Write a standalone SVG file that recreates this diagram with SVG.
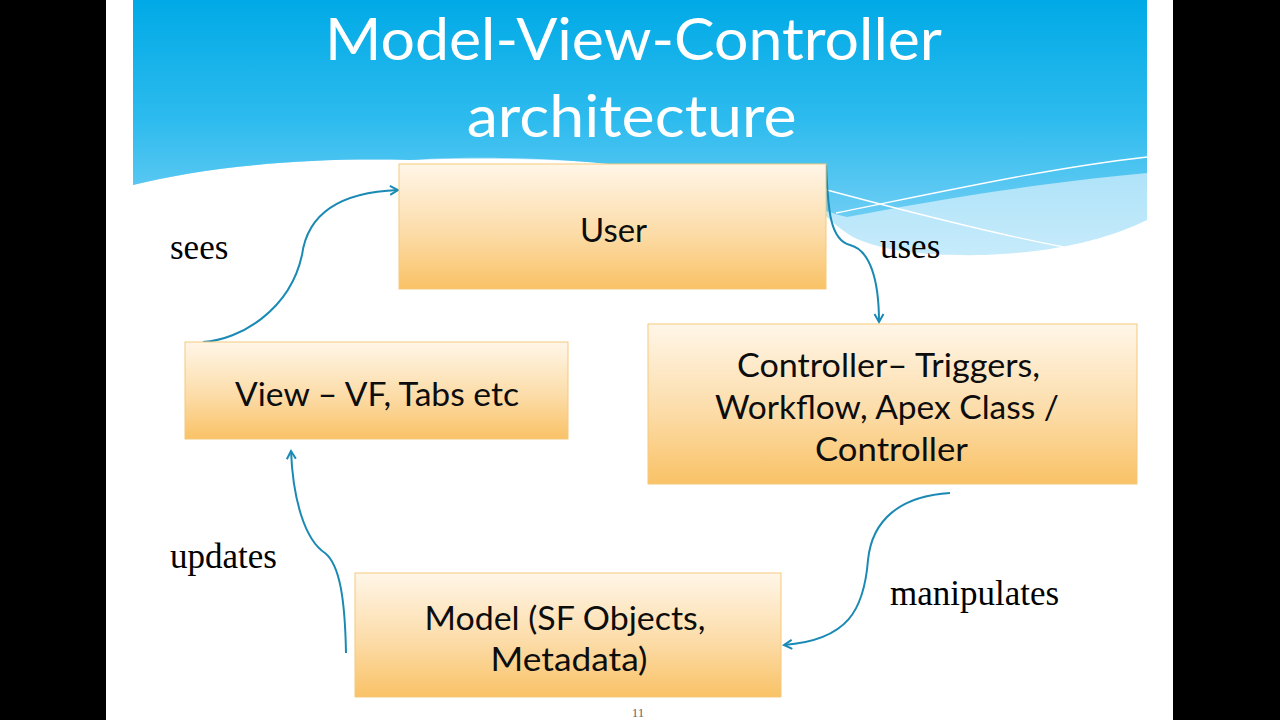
<svg xmlns="http://www.w3.org/2000/svg" width="1280" height="720" viewBox="0 0 1280 720">
<defs>
<linearGradient id="sky" x1="0" y1="0" x2="0" y2="1">
<stop offset="0" stop-color="#00AAE6"/>
<stop offset="0.55" stop-color="#2DBBEE"/>
<stop offset="1" stop-color="#6CCDF3"/>
</linearGradient>
<linearGradient id="band" x1="0" y1="0" x2="0" y2="1">
<stop offset="0" stop-color="#7FD2F4"/>
<stop offset="1" stop-color="#C6EBFB"/>
</linearGradient>
<linearGradient id="box" x1="0" y1="0" x2="0" y2="1">
<stop offset="0" stop-color="#FFF6E8"/>
<stop offset="0.55" stop-color="#FCDCA8"/>
<stop offset="1" stop-color="#F9C266"/>
</linearGradient>
<marker id="arr" markerUnits="userSpaceOnUse" markerWidth="12" markerHeight="12" refX="9" refY="5" orient="auto" viewBox="0 0 12 10">
<path d="M1,0.5 L9,5 L1,9.5" fill="none" stroke="#1A8AB5" stroke-width="2"/>
</marker>
</defs>
<style>
.box{fill:url(#box);stroke:#F5C97C;stroke-width:1}
.bt{font-family:Lato,"Open Sans",sans-serif;font-size:32px;fill:#0d0d0d;text-anchor:middle}
.lbl{font-family:"Liberation Serif","Times New Roman",serif;font-size:35px;fill:#000}
.conn{fill:none;stroke:#1A8AB5;stroke-width:2;marker-end:url(#arr)}
.title{font-family:Lato,"Open Sans",sans-serif;font-size:59px;fill:#fff;text-anchor:middle}
</style>
<rect x="0" y="0" width="1280" height="720" fill="#000"/>
<rect x="106" y="0" width="1067" height="720" fill="#fff"/>
<g id="header">
<path d="M133,0 H1147 V220 C1110,238 1060,252 985,255 C930,256 885,252 855,238 C830,225 815,200 790,190 C700,165 550,155 410,160 C300,157 200,168 133,185 Z" fill="url(#band)"/>
<path d="M133,0 H1147 V173 C1020,185 920,203 847,217 C800,205 720,170 560,160 C480,156 440,158 410,160 C300,157 200,168 133,185 Z" fill="url(#sky)"/>
<path d="M790,180 C900,210 1000,235 1064,247" fill="none" stroke="#fff" stroke-width="1.3"/>
<path d="M836,213 C950,190 1050,168 1147,157" fill="none" stroke="#fff" stroke-width="1.3"/>
</g>
<g id="title">
<text class="title" x="633.5" y="60" textLength="617" lengthAdjust="spacingAndGlyphs">Model-View-Controller</text>
<text class="title" x="631.7" y="137" textLength="330" lengthAdjust="spacingAndGlyphs">architecture</text>
</g>
<g id="connectors">
<path class="conn" d="M203,342 C240,340 290,310 302,255 C308,210 345,192 398,190"/>
<path class="conn" d="M826,165 C828,210 830,240 850,245 C870,250 879,280 879,322"/>
<path class="conn" d="M950,493 C900,496 872,520 868,560 C864,610 848,640 784,645"/>
<path class="conn" d="M346,653 C345,600 340,565 325,553 C305,540 293,500 291,451"/>
</g>
<g id="node-user">
<rect class="box" x="399" y="164" width="427" height="125"/>
<text class="bt" x="613.5" y="242" textLength="67" lengthAdjust="spacingAndGlyphs">User</text>
</g>
<g id="node-controller">
<rect class="box" x="648" y="324" width="489" height="160"/>
<text class="bt" x="888.5" y="377" textLength="303" lengthAdjust="spacingAndGlyphs">Controller– Triggers,</text>
<text class="bt" x="887" y="419" textLength="344" lengthAdjust="spacingAndGlyphs">Workflow, Apex Class /</text>
<text class="bt" x="891.5" y="461" textLength="153" lengthAdjust="spacingAndGlyphs">Controller</text>
</g>
<g id="node-view">
<rect class="box" x="185" y="342" width="383" height="97"/>
<text class="bt" x="377" y="406" textLength="284" lengthAdjust="spacingAndGlyphs">View – VF, Tabs etc</text>
</g>
<g id="node-model">
<rect class="box" x="355" y="573" width="426" height="124"/>
<text class="bt" x="565" y="630" textLength="281" lengthAdjust="spacingAndGlyphs">Model (SF Objects,</text>
<text class="bt" x="569" y="671" textLength="157" lengthAdjust="spacingAndGlyphs">Metadata)</text>
</g>
<g id="labels">
<text class="lbl" x="170" y="259">sees</text>
<text class="lbl" x="880" y="258">uses</text>
<text class="lbl" x="170" y="568">updates</text>
<text class="lbl" x="890" y="605">manipulates</text>
<text x="638" y="717" font-family="Liberation Serif, serif" font-size="13" fill="#666" text-anchor="middle">11</text>
</g>
</svg>
